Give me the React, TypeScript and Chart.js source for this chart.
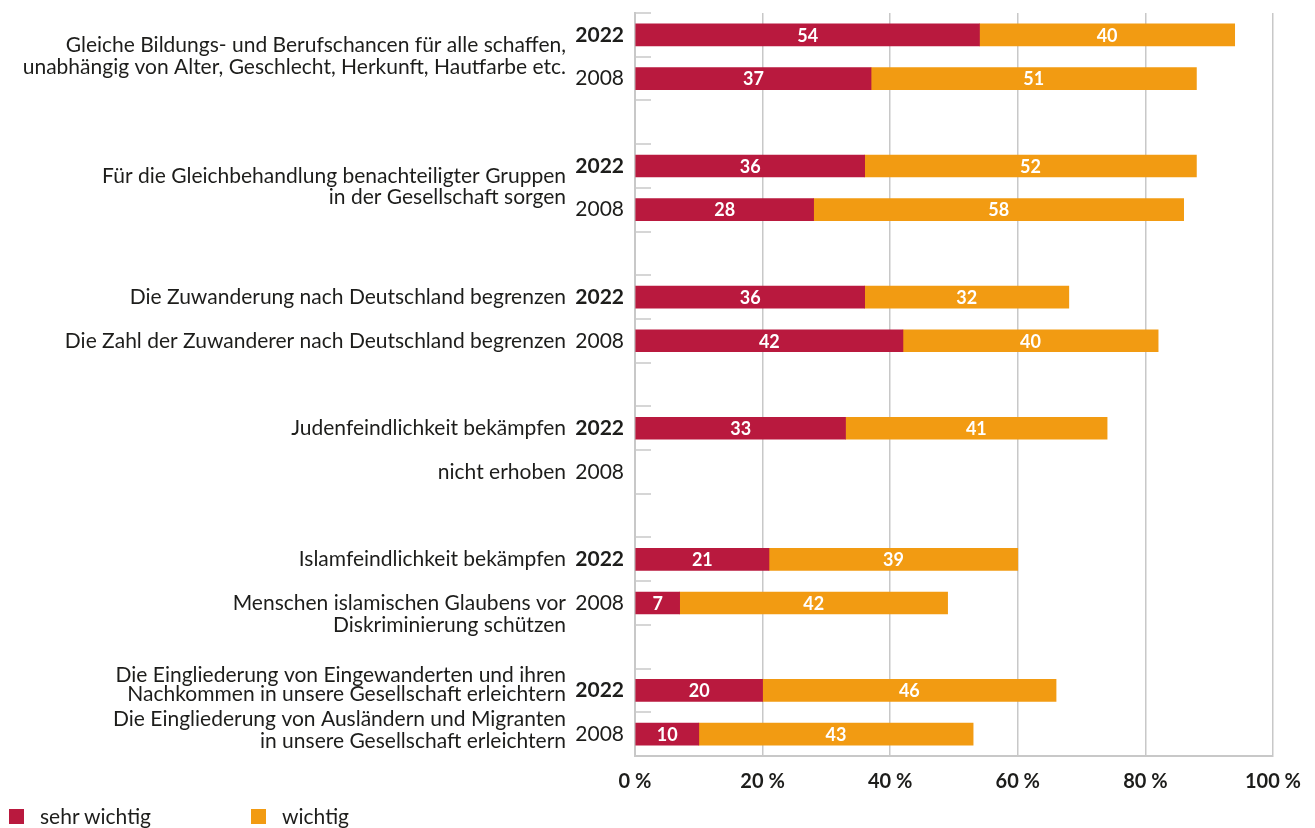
import React, { useEffect, useRef } from 'react';
import { Chart, registerables } from 'chart.js';

Chart.register(...registerables);

// ---- data ----
const yearLabels = ['2022', '2008', '', '2022', '2008', '', '2022', '2008', '', '2022', '2008', '', '2022', '2008', '', '2022', '2008'];
const sehrWichtig = [54, 37, null, 36, 28, null, 36, 42, null, 33, null, null, 21, 7, null, 20, 10];
const wichtig = [40, 51, null, 52, 58, null, 32, 40, null, 41, null, null, 39, 42, null, 46, 43];
const seriesNames = ['sehr wichtig', 'wichtig'];
const xTickValues = [0, 20, 40, 60, 80, 100];

const itemTexts: string[][] = [
  ['Gleiche Bildungs- und Berufschancen für alle schaffen,', 'unabhängig von Alter, Geschlecht, Herkunft, Hautfarbe etc.'],
  ['Für die Gleichbehandlung benachteiligter Gruppen', 'in der Gesellschaft sorgen'],
  ['Die Zuwanderung nach Deutschland begrenzen'],
  ['Die Zahl der Zuwanderer nach Deutschland begrenzen'],
  ['Judenfeindlichkeit bekämpfen'],
  ['nicht erhoben'],
  ['Islamfeindlichkeit bekämpfen'],
  ['Menschen islamischen Glaubens vor', 'Diskriminierung schützen'],
  ['Die Eingliederung von Eingewanderten und ihren', 'Nachkommen in unsere Gesellschaft erleichtern'],
  ['Die Eingliederung von Ausländern und Migranten', 'in unsere Gesellschaft erleichtern'],
];
const itemRows = [0.5, 3.5, 6, 7, 9, 10, 12, 13, 15, 16];

// ---- layout / style (kept apart from data) ----
const itemAnchor = ['center', 'center', 'center', 'center', 'center', 'center', 'center', 'top', 'center', 'center'];
const itemShift = [0, -1, 0, 0, 0, 0, 0, 0, -6, -4];
const itemLineGap = [22, 21, 22, 22, 22, 22, 22, 22, 19, 21.5];
const RED = '#B9193E';
const ORANGE = '#F29B12';
const TEXT = '#1d1d1b';
const GRID = '#c8c8c8';
const FONT = 'Lato';

const customPlugin = {
  id: 'customLabels',
  beforeDatasetsDraw(chart: any) {
    const ctx = chart.ctx;
    const y = chart.scales.y;
    const area = chart.chartArea;
    ctx.save();
    ctx.strokeStyle = GRID;
    ctx.lineWidth = 1.5;
    for (let i = 0; i <= yearLabels.length; i++) {
      const py = Math.round(y.getPixelForValue(i - 0.5));
      ctx.beginPath();
      ctx.moveTo(area.left, py);
      ctx.lineTo(area.left + 16, py);
      ctx.stroke();
    }
    ctx.restore();
  },
  afterDatasetsDraw(chart: any) {
    const ctx = chart.ctx;
    const y = chart.scales.y;
    const area = chart.chartArea;
    ctx.save();
    ctx.font = `bold 18px ${FONT}`;
    ctx.fillStyle = '#ffffff';
    ctx.textAlign = 'center';
    ctx.textBaseline = 'middle';
    chart.data.datasets.forEach((ds: any, di: number) => {
      const meta = chart.getDatasetMeta(di);
      meta.data.forEach((bar: any, i: number) => {
        const v = ds.data[i];
        if (v == null) return;
        const p = bar.getProps(['x', 'base', 'y'], true);
        ctx.fillText(String(v), (p.x + p.base) / 2, p.y + 1);
      });
    });
    ctx.font = `21px ${FONT}`;
    ctx.fillStyle = TEXT;
    ctx.textAlign = 'right';
    const xr = area.left - 69;
    itemTexts.forEach((lines, k) => {
      const lh = itemLineGap[k];
      const cy = y.getPixelForValue(itemRows[k]) + itemShift[k];
      const anchor = itemAnchor[k];
      let startY: number;
      if (anchor === 'top') startY = cy;
      else if (anchor === 'bottom') startY = cy - (lines.length - 1) * lh;
      else startY = cy - ((lines.length - 1) * lh) / 2;
      lines.forEach((ln, j) => ctx.fillText(ln, xr, startY + j * lh));
    });
    ctx.restore();
  },
};

export default function App() {
  const ref = useRef<HTMLCanvasElement | null>(null);
  useEffect(() => {
    if (!ref.current) return;
    const chart = new Chart(ref.current, {
      type: 'bar',
      data: {
        labels: yearLabels,
        datasets: [
          { label: seriesNames[0], data: sehrWichtig, backgroundColor: RED, barThickness: 22 },
          { label: seriesNames[1], data: wichtig, backgroundColor: ORANGE, barThickness: 22 },
        ],
      },
      options: {
        indexAxis: 'y',
        responsive: false,
        animation: false,
        layout: { padding: { top: 13, right: 42, bottom: 22, left: 0 } },
        plugins: { legend: { display: false }, tooltip: { enabled: false } },
        scales: {
          x: {
            stacked: true,
            min: 0,
            max: 100,
            afterBuildTicks: (s: any) => {
              s.ticks = xTickValues.map((v) => ({ value: v }));
            },
            ticks: {
              callback: (v: any) => `${v} %`,
              font: { family: FONT, size: 20, weight: 'bold' },
              color: TEXT,
              padding: 14,
            },
            grid: { color: GRID, lineWidth: 1.5, drawTicks: false },
            border: { color: GRID, width: 2 },
            afterFit: (s: any) => {
              s.height = 50;
            },
          },
          y: {
            stacked: true,
            ticks: {
              autoSkip: false,
              color: TEXT,
              padding: 11,
              font: (c: any) => ({ family: FONT, size: 21, weight: yearLabels[c.index] === '2022' ? 'bold' : 'normal' }),
            },
            grid: { display: false, drawTicks: false },
            border: { display: true, color: GRID, width: 2 },
            afterFit: (s: any) => {
              s.width = 635;
              s.paddingTop = 0;
              s.paddingBottom = 0;
            },
          },
        },
      } as any,
      plugins: [customPlugin],
    });
    return () => chart.destroy();
  }, []);

  const legendItem = (left: number, color: string, text: string) => (
    <div style={{ position: 'absolute', left, top: 803, height: 26, display: 'flex', alignItems: 'center', fontFamily: FONT, fontSize: 21, lineHeight: '26px', color: TEXT }}>
      <span style={{ display: 'inline-block', width: 15, height: 15, background: color, marginRight: 16 }} />
      <span>{text}</span>
    </div>
  );

  return (
    <div style={{ position: 'fixed', left: 0, top: 0, width: 1315, height: 828, background: '#fff', overflow: 'hidden' }}>
      <canvas ref={ref} width={1315} height={828} style={{ display: 'block', width: 1315, height: 828 }} />
      {legendItem(9, RED, seriesNames[0])}
      {legendItem(251, ORANGE, seriesNames[1])}
    </div>
  );
}
